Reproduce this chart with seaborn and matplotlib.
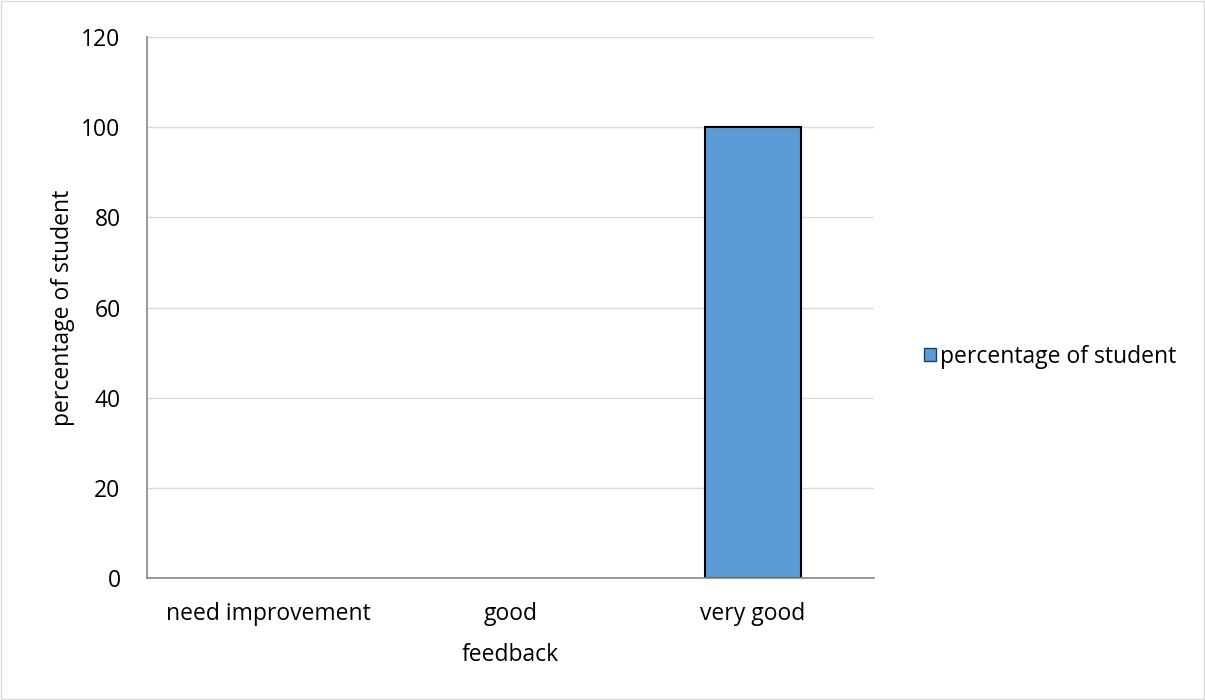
import matplotlib
matplotlib.use("Agg")
import matplotlib.pyplot as plt
from matplotlib.patches import Patch, Rectangle
import seaborn as sns
import pandas as pd

# Data
feedback = ["need improvement", "good", "very good"]
percentage = [0, 0, 100]
series_name = "percentage of student"
bar_color = "#5B9BD5"

df = pd.DataFrame({"feedback": feedback, "value": percentage, "series": series_name})

sns.set_style("white")
plt.rcParams['font.family'] = ['Open Sans', 'DejaVu Sans']
plt.rcParams['text.color'] = "black"
plt.rcParams['axes.labelcolor'] = "black"
fs = 16.5

fig = plt.figure(figsize=(12.05, 7), dpi=100)
ax = fig.add_axes([0.122, 0.1743, 0.6033, 0.7727])

sns.barplot(data=df, x="feedback", y="value", hue="series", order=feedback,
            palette=[bar_color], saturation=1, width=0.396, edgecolor="black",
            linewidth=1.5, legend=False, ax=ax)

# hide zero-height bars so no edge line sits on the axis
for p in ax.patches:
    if p.get_height() == 0:
        p.set_visible(False)

ax.set_ylim(0, 120)
ax.set_yticks(range(0, 121, 20))
ax.set_xlim(-0.5, 2.5)
ax.yaxis.grid(True, color="#d9d9d9", linewidth=1)
ax.set_axisbelow(True)
for s in ["top", "right"]:
    ax.spines[s].set_visible(False)
for s in ["left", "bottom"]:
    ax.spines[s].set_color("#868686")
    ax.spines[s].set_linewidth(1.2)
ax.tick_params(axis="both", length=0, labelsize=fs, colors="black")
ax.tick_params(axis="x", pad=17)
ax.tick_params(axis="y", pad=19)
ax.set_xlabel("feedback", fontsize=fs, va="top", color="black")
ax.set_ylabel("percentage of student", fontsize=fs, color="black")
ax.xaxis.set_label_coords(0.5, -0.12)
ax.yaxis.set_label_coords(-0.099, 0.5)

handle = Patch(facecolor=bar_color, edgecolor="#1f3f66", linewidth=1)
leg = ax.legend([handle], [series_name], loc="center left", bbox_to_anchor=(0.767, 0.49),
                bbox_transform=fig.transFigure, frameon=False, fontsize=fs,
                borderaxespad=0, borderpad=0,
                handlelength=0.5, handleheight=0.5, handletextpad=0.2)
for t in leg.get_texts():
    t.set_color("black")

# light border around the figure
fig.patches.append(Rectangle((0.001, 0.001), 0.998, 0.997, transform=fig.transFigure,
                             fill=False, edgecolor="#d9d9d9", linewidth=1))

fig.savefig("out.png", dpi=100)
